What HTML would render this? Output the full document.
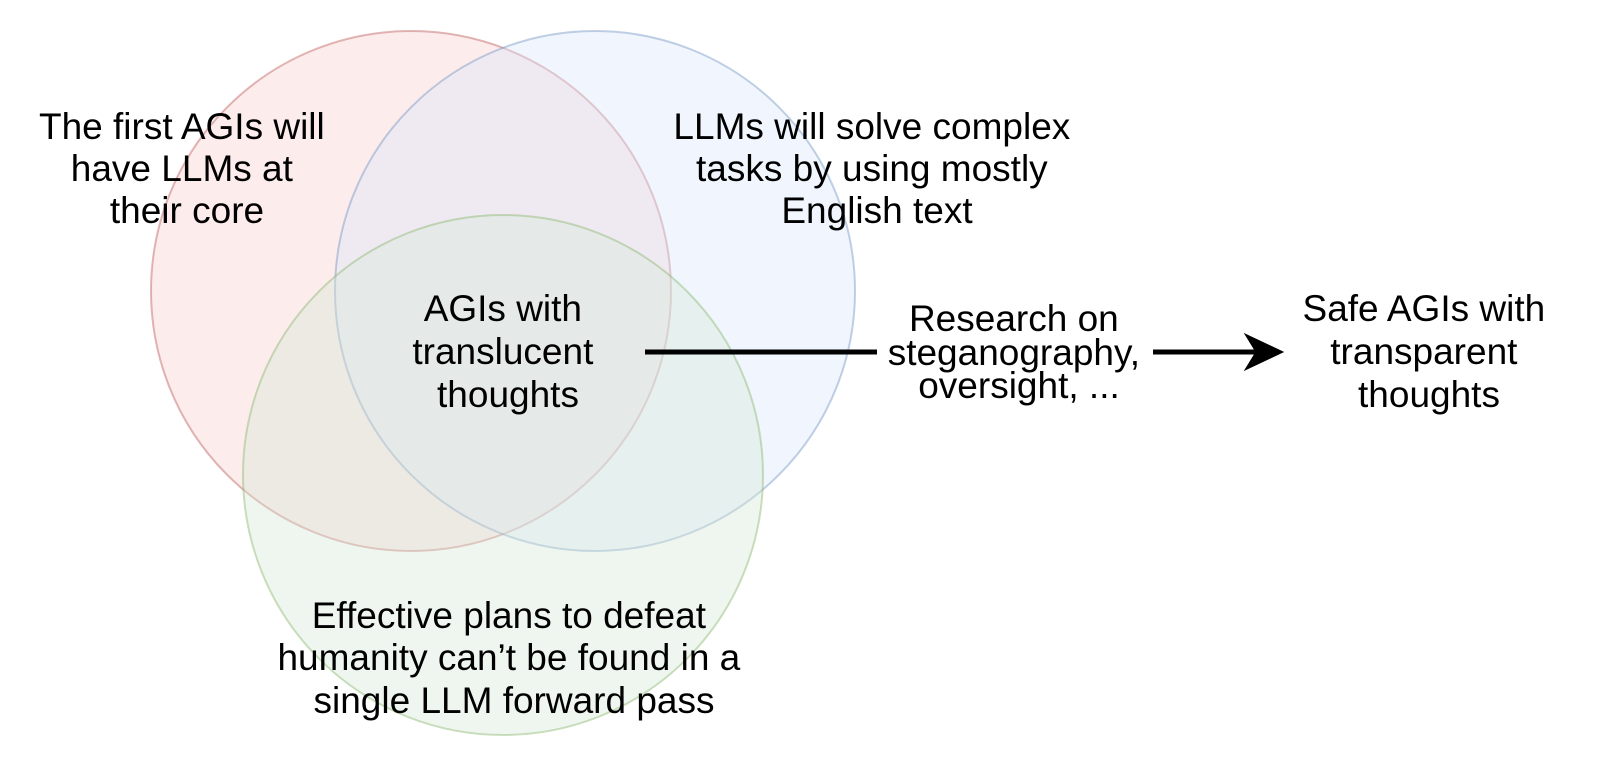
<!DOCTYPE html>
<html>
<head>
<meta charset="utf-8">
<style>
  html, body { margin: 0; padding: 0; background: #ffffff; }
  body { width: 1600px; height: 768px; overflow: hidden; }
  svg { display: block; }
  text { font-family: "Liberation Sans", Arial, sans-serif; font-size: 37px; fill: #000; }
</style>
</head>
<body>
<svg width="1600" height="768" viewBox="0 0 1600 768" xmlns="http://www.w3.org/2000/svg">
  <rect x="0" y="0" width="1600" height="768" fill="#ffffff"/>

  <!-- Venn circles -->
  <circle cx="411" cy="291" r="260" fill="#f8cecc" fill-opacity="0.38" stroke="#b85450" stroke-opacity="0.42" stroke-width="2"/>
  <circle cx="595" cy="291" r="260" fill="#dae8fc" fill-opacity="0.38" stroke="#6c8ebf" stroke-opacity="0.42" stroke-width="2"/>
  <circle cx="503" cy="475" r="260" fill="#d5e8d4" fill-opacity="0.38" stroke="#82b366" stroke-opacity="0.42" stroke-width="2"/>

  <!-- Arrow -->
  <line x1="645" y1="352" x2="877" y2="352" stroke="#000" stroke-width="5"/>
  <line x1="1153" y1="352" x2="1258" y2="352" stroke="#000" stroke-width="5"/>
  <path d="M1283,352 L1245,334 L1256,352 L1245,370 Z" fill="#000" stroke="#000" stroke-width="1" stroke-linejoin="miter"/>

  <!-- Labels -->
  <text text-anchor="middle">
    <tspan x="187" y="139">The first AGIs will</tspan>
    <tspan x="187" y="181">have LLMs at</tspan>
    <tspan x="187" y="223">their core</tspan>
  </text>

  <text text-anchor="middle">
    <tspan x="877" y="139">LLMs will solve complex</tspan>
    <tspan x="877" y="181">tasks by using mostly</tspan>
    <tspan x="877" y="223">English text</tspan>
  </text>

  <text text-anchor="middle">
    <tspan x="508" y="321">AGIs with</tspan>
    <tspan x="508" y="364">translucent</tspan>
    <tspan x="508" y="407">thoughts</tspan>
  </text>

  <text text-anchor="middle">
    <tspan x="1019" y="331">Research on</tspan>
    <tspan x="1019" y="365">steganography,</tspan>
    <tspan x="1019" y="398">oversight, ...</tspan>
  </text>

  <text text-anchor="middle">
    <tspan x="1429" y="321">Safe AGIs with</tspan>
    <tspan x="1429" y="364">transparent</tspan>
    <tspan x="1429" y="407">thoughts</tspan>
  </text>

  <text text-anchor="middle">
    <tspan x="514" y="628">Effective plans to defeat</tspan>
    <tspan x="514" y="670">humanity can’t be found in a</tspan>
    <tspan x="514" y="713">single LLM forward pass</tspan>
  </text>
</svg>
</body>
</html>
